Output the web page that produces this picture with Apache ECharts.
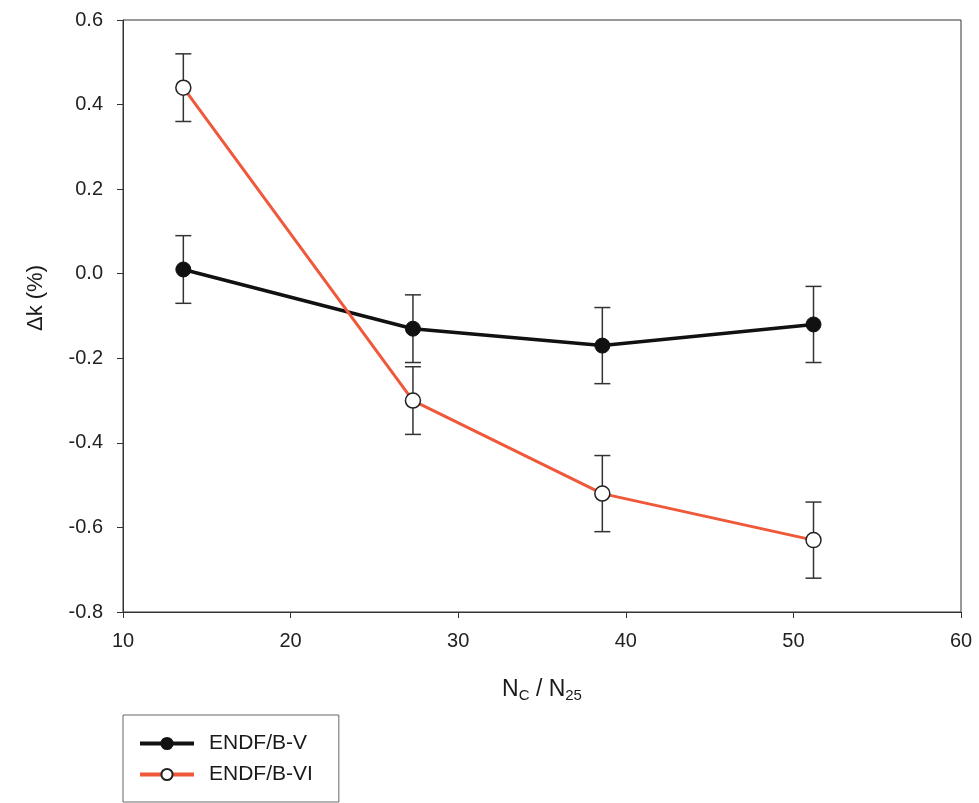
<!DOCTYPE html>
<html>
<head>
<meta charset="utf-8">
<script src="https://cdn.jsdelivr.net/npm/echarts@6/dist/echarts.min.js"></script>
<style>
  html, body { margin: 0; padding: 0; background: #fff; }
  #chart { width: 979px; height: 803px; }
</style>
</head>
<body>
<div id="chart"></div>
<script>
// N_C / N_25 values of the four cases
var ratios = [13.6, 27.3, 38.6, 51.2];
// Δk (%) and error half-widths
var endf5 = [0.01, -0.13, -0.17, -0.12];
var endf5Err = [0.08, 0.08, 0.09, 0.09];
var endf6 = [0.44, -0.30, -0.52, -0.63];
var endf6Err = [0.08, 0.08, 0.09, 0.09];

var fontFam = '"Liberation Sans", Arial, sans-serif';

function pts(ys) {
    return ratios.map(function (x, i) { return [x, ys[i]]; });
}
function bars(ys, es) {
    return ratios.map(function (x, i) { return [x, ys[i] - es[i], ys[i] + es[i]]; });
}

// error bars with caps
function renderErr(params, api) {
    var lo = api.coord([api.value(0), api.value(1)]);
    var hi = api.coord([api.value(0), api.value(2)]);
    var cap = 8;
    var st = { stroke: '#333', lineWidth: 1.5 };
    return {
        type: 'group',
        children: [
            { type: 'line', shape: { x1: lo[0], y1: lo[1], x2: hi[0], y2: hi[1] }, style: st },
            { type: 'line', shape: { x1: lo[0] - cap, y1: lo[1], x2: lo[0] + cap, y2: lo[1] }, style: st },
            { type: 'line', shape: { x1: hi[0] - cap, y1: hi[1], x2: hi[0] + cap, y2: hi[1] }, style: st }
        ]
    };
}

var myChart = echarts.init(document.getElementById('chart'));
myChart.setOption({
    animation: false,
    textStyle: { fontFamily: fontFam },
    grid: {
        left: 123, right: 18, top: 20, bottom: 191,
        show: true, borderColor: '#333', borderWidth: 1
    },
    legend: {
        orient: 'vertical',
        left: 123, top: 715,
        padding: [18, 26, 17, 15],
        itemGap: 10,
        itemWidth: 54, itemHeight: 14,
        borderColor: '#666', borderWidth: 1,
        lineStyle: { width: 4 },
        textStyle: { fontSize: 21, color: '#1a1a1a', fontFamily: fontFam, padding: [0, 0, 0, 10] },
        data: ['ENDF/B-V', 'ENDF/B-VI']
    },
    xAxis: {
        type: 'value',
        min: 10, max: 60, interval: 10,
        name: 'N{sub|C} / N{sub|25}',
        nameLocation: 'middle',
        nameGap: 64,
        nameTextStyle: {
            fontSize: 23, color: '#1a1a1a', fontFamily: fontFam,
            rich: { sub: { fontSize: 15, padding: [12, 0, 0, 0], color: '#1a1a1a', fontFamily: fontFam } }
        },
        splitLine: { show: false },
        axisLine: { onZero: false, lineStyle: { color: '#333', width: 1 } },
        axisTick: { inside: false, length: 6, lineStyle: { color: '#333' } },
        axisLabel: { fontSize: 20, color: '#222', margin: 19 }
    },
    yAxis: {
        type: 'value',
        min: -0.8, max: 0.6, interval: 0.2,
        name: 'Δk (%)',
        nameLocation: 'middle',
        nameGap: 76,
        nameTextStyle: { fontSize: 22, color: '#1a1a1a', fontFamily: fontFam, padding: [0, 0, 0, 36] },
        splitLine: { show: false },
        axisLine: { onZero: false, lineStyle: { color: '#333', width: 1 } },
        axisTick: { inside: false, length: 6, lineStyle: { color: '#333' } },
        axisLabel: {
            fontSize: 20, color: '#222', margin: 20,
            formatter: function (v) { return v.toFixed(1); }
        }
    },
    series: [
        {
            name: 'ENDF/B-V',
            type: 'line',
            data: pts(endf5),
            symbol: 'circle', symbolSize: 15,
            lineStyle: { color: '#111', width: 3.5 },
            itemStyle: { color: '#111', borderColor: '#111', borderWidth: 1 },
            z: 3
        },
        {
            name: 'ENDF/B-VI',
            type: 'line',
            data: pts(endf6),
            symbol: 'circle', symbolSize: 15,
            lineStyle: { color: '#f0583a', width: 3 },
            itemStyle: { color: '#fff', borderColor: '#222', borderWidth: 1.5 },
            z: 3
        },
        {
            type: 'custom',
            renderItem: renderErr,
            data: bars(endf5, endf5Err),
            encode: { x: 0, y: [1, 2] },
            z: 2
        },
        {
            type: 'custom',
            renderItem: renderErr,
            data: bars(endf6, endf6Err),
            encode: { x: 0, y: [1, 2] },
            z: 2
        }
    ]
});
</script>
</body>
</html>
